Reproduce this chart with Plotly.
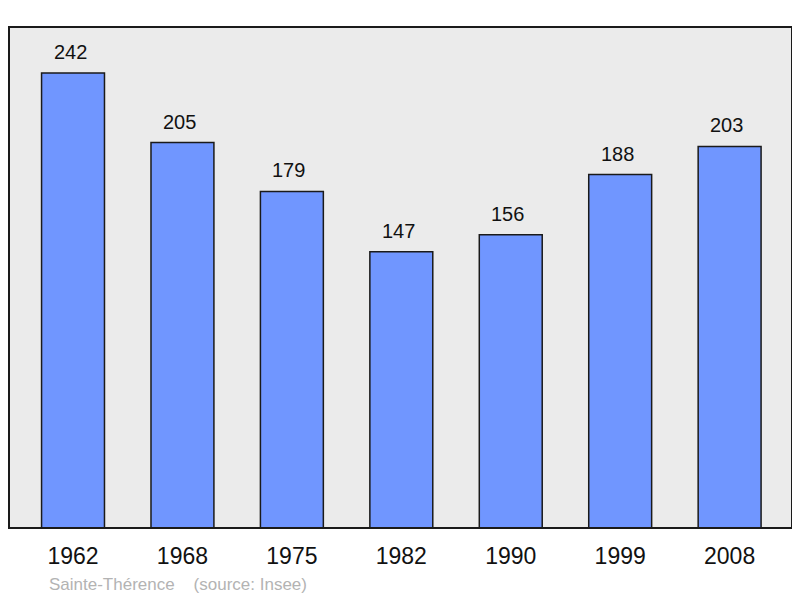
import plotly.graph_objects as go

years = ["1962", "1968", "1975", "1982", "1990", "1999", "2008"]
population = [242, 205, 179, 147, 156, 188, 203]
source_text = "Sainte-Thérence    (source: Insee)"

FONT = "Liberation Sans, Arial, sans-serif"

fig = go.Figure()
fig.add_trace(go.Bar(
    x=list(range(len(years))), y=population,
    width=0.575,
    marker=dict(color="#7096ff", line=dict(color="#1a1a1a", width=1.5)),
    hoverinfo="skip",
))

for i, v in enumerate(population):
    fig.add_annotation(x=i, y=v, text=str(v), showarrow=False,
                       yanchor="bottom", yshift=8, xshift=-3,
                       font=dict(size=20, color="#111", family=FONT))

fig.add_annotation(xref="paper", yref="paper",
                   x=(47 - 9) / 783, y=-(584 - 528) / 501,
                   text=source_text, showarrow=False,
                   xanchor="left", yanchor="middle",
                   font=dict(size=17, color="#b3b3b3", family=FONT))

fig.add_shape(type="rect", xref="paper", yref="paper", x0=0, y0=0, x1=1, y1=1,
              line=dict(color="#1a1a1a", width=2), layer="above")

fig.update_layout(
    width=800, height=598,
    margin=dict(l=1, r=16, t=19, b=78),
    paper_bgcolor="white", plot_bgcolor="#ebebeb",
    showlegend=False,
    font=dict(family=FONT),
    xaxis=dict(tickmode="array", tickvals=list(range(len(years))), ticktext=years,
               range=[-0.585, 6.57], showgrid=False, zeroline=False,
               tickfont=dict(size=23, color="#111"), ticks="", ticklen=0,
               ticklabelstandoff=12),
    yaxis=dict(range=[0, 266.5], showgrid=False, zeroline=False, showticklabels=False, ticks=""),
)
fig.write_html("out.html")
